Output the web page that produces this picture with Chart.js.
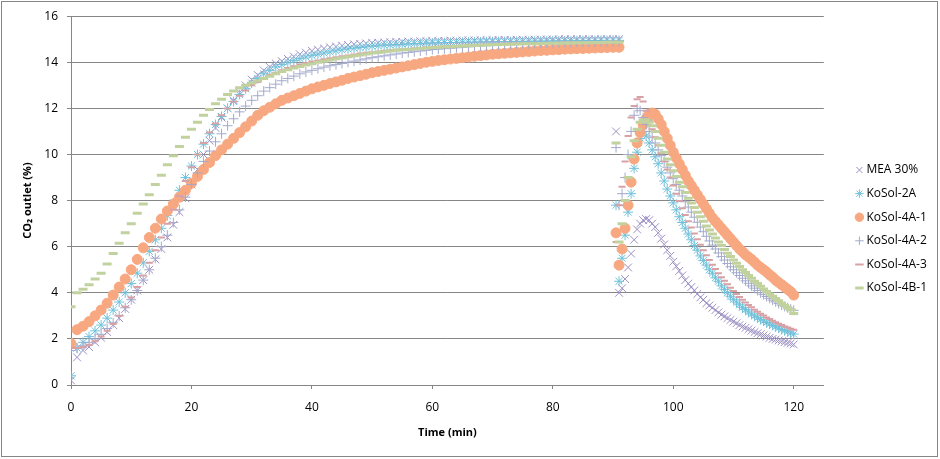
<!DOCTYPE html>
<html>
<head>
<meta charset="utf-8">
<script src="https://cdn.jsdelivr.net/npm/chart.js@4.4.1/dist/chart.umd.min.js"></script>
<style>
  html, body { margin: 0; padding: 0; background: #fff; }
</style>
</head>
<body>
<canvas id="co2Chart" width="940" height="459"></canvas>
<script>
// CO2 outlet vs time: absorption run (0-91 min) then regeneration run (90.5-120 min)

const seriesNames = ['MEA 30%', 'KoSol-2A', 'KoSol-4A-1', 'KoSol-4A-2', 'KoSol-4A-3', 'KoSol-4B-1'];

const absTime = [
  0, 1, 2, 3, 4, 5, 6, 7, 8, 9,
  10, 11, 12, 13, 14, 15, 16, 17, 18, 19,
  20, 21, 22, 23, 24, 25, 26, 27, 28, 29,
  30, 31, 32, 33, 34, 35, 36, 37, 38, 39,
  40, 41, 42, 43, 44, 45, 46, 47, 48, 49,
  50, 51, 52, 53, 54, 55, 56, 57, 58, 59,
  60, 61, 62, 63, 64, 65, 66, 67, 68, 69,
  70, 71, 72, 73, 74, 75, 76, 77, 78, 79,
  80, 81, 82, 83, 84, 85, 86, 87, 88, 89,
  90, 91
];
const desTime = [
  90.5, 91, 91.5, 92, 92.5, 93, 93.5, 94, 94.5, 95,
  95.5, 96, 96.5, 97, 97.5, 98, 98.5, 99, 99.5, 100,
  100.5, 101, 101.5, 102, 102.5, 103, 103.5, 104, 104.5, 105,
  105.5, 106, 106.5, 107, 107.5, 108, 108.5, 109, 109.5, 110,
  110.5, 111, 111.5, 112, 112.5, 113, 113.5, 114, 114.5, 115,
  115.5, 116, 116.5, 117, 117.5, 118, 118.5, 119, 119.5, 120
];

// absorption values (%), one per absTime
const mea30Abs = [
  0.2, 1.2, 1.5, 1.65, 1.85, 2.05, 2.3, 2.6, 2.9, 3.3,
  3.7, 4.1, 4.55, 5.0, 5.45, 5.9, 6.4, 6.95, 7.5, 8.1,
  8.7, 9.35, 10.0, 10.6, 11.15, 11.6, 12.0, 12.35, 12.7, 13.0,
  13.25, 13.45, 13.65, 13.8, 13.95, 14.05, 14.15, 14.25, 14.35, 14.42,
  14.5, 14.55, 14.6, 14.65, 14.68, 14.72, 14.75, 14.78, 14.8, 14.82,
  14.84, 14.85, 14.86, 14.87, 14.88, 14.89, 14.9, 14.9, 14.91, 14.92,
  14.92, 14.93, 14.93, 14.94, 14.94, 14.95, 14.95, 14.95, 14.96, 14.96,
  14.96, 14.97, 14.97, 14.97, 14.98, 14.98, 14.98, 14.98, 14.99, 14.99,
  14.99, 15.0, 15.0, 15.0, 15.0, 15.0, 15.0, 15.0, 15.0, 15.0,
  15.0, 15.0
];
const kosol2aAbs = [
  0.4, 1.6, 1.85, 2.1, 2.35, 2.6, 2.9, 3.25, 3.6, 4.0,
  4.4, 4.85, 5.3, 5.8, 6.3, 6.8, 7.35, 7.9, 8.45, 9.0,
  9.5, 10.0, 10.45, 10.9, 11.3, 11.65, 12.0, 12.3, 12.6, 12.85,
  13.1, 13.3, 13.5, 13.65, 13.8, 13.9, 14.0, 14.08, 14.16, 14.23,
  14.3, 14.35, 14.4, 14.45, 14.5, 14.54, 14.58, 14.61, 14.64, 14.67,
  14.7, 14.72, 14.74, 14.75, 14.77, 14.78, 14.8, 14.81, 14.82, 14.83,
  14.84, 14.85, 14.85, 14.86, 14.86, 14.87, 14.87, 14.88, 14.88, 14.89,
  14.89, 14.9, 14.9, 14.9, 14.91, 14.91, 14.91, 14.92, 14.92, 14.92,
  14.93, 14.93, 14.93, 14.93, 14.94, 14.94, 14.94, 14.94, 14.95, 14.95,
  14.95, 14.95
];
const kosol4a1Abs = [
  1.8, 2.4, 2.55, 2.75, 3.0, 3.25, 3.55, 3.9, 4.25, 4.6,
  5.0, 5.45, 5.95, 6.4, 6.8, 7.2, 7.55, 7.85, 8.15, 8.45,
  8.75, 9.05, 9.35, 9.65, 9.95, 10.2, 10.45, 10.7, 10.95, 11.2,
  11.45, 11.7, 11.9, 12.05, 12.2, 12.35, 12.45, 12.55, 12.65, 12.75,
  12.85, 12.93, 13.0, 13.08, 13.15, 13.22, 13.3, 13.36, 13.42, 13.48,
  13.55, 13.6, 13.65, 13.7, 13.75, 13.8, 13.85, 13.9, 13.95, 14.0,
  14.04, 14.08, 14.11, 14.14, 14.17, 14.2, 14.23, 14.26, 14.29, 14.32,
  14.35, 14.37, 14.39, 14.41, 14.43, 14.45, 14.47, 14.49, 14.51, 14.52,
  14.54, 14.55, 14.57, 14.58, 14.59, 14.6, 14.61, 14.62, 14.63, 14.64,
  14.65, 14.65
];
const kosol4a2Abs = [
  1.5, 1.6, 1.7, 1.85, 2.0, 2.2, 2.45, 2.7, 3.0, 3.35,
  3.7, 4.1, 4.55, 5.0, 5.5, 6.0, 6.5, 7.05, 7.6, 8.15,
  8.7, 9.2, 9.7, 10.15, 10.55, 10.9, 11.25, 11.55, 11.85, 12.1,
  12.35, 12.55, 12.75, 12.9, 13.05, 13.2, 13.3, 13.4, 13.5, 13.58,
  13.65, 13.72, 13.79, 13.85, 13.9, 13.95, 14.0, 14.05, 14.1, 14.15,
  14.2, 14.24, 14.28, 14.32, 14.36, 14.4, 14.43, 14.46, 14.49, 14.52,
  14.55, 14.57, 14.59, 14.61, 14.63, 14.65, 14.67, 14.69, 14.71, 14.73,
  14.75, 14.76, 14.77, 14.78, 14.79, 14.8, 14.81, 14.82, 14.83, 14.84,
  14.85, 14.85, 14.86, 14.86, 14.87, 14.87, 14.88, 14.88, 14.89, 14.89,
  14.9, 14.9
];
const kosol4a3Abs = [
  1.6, 1.6, 1.65, 1.75, 1.9, 2.1, 2.35, 2.65, 3.0, 3.4,
  3.8, 4.25, 4.75, 5.3, 5.85, 6.4, 7.0, 7.6, 8.2, 8.85,
  9.45, 10.0, 10.5, 10.95, 11.35, 11.7, 12.0, 12.3, 12.55, 12.78,
  13.0, 13.15, 13.3, 13.45, 13.55, 13.65, 13.75, 13.83, 13.9, 13.97,
  14.03, 14.08, 14.13, 14.18, 14.22, 14.26, 14.3, 14.34, 14.38, 14.41,
  14.44, 14.47, 14.5, 14.52, 14.54, 14.56, 14.58, 14.6, 14.62, 14.64,
  14.65, 14.67, 14.68, 14.7, 14.71, 14.72, 14.73, 14.74, 14.75, 14.76,
  14.77, 14.78, 14.79, 14.8, 14.8, 14.81, 14.82, 14.82, 14.83, 14.84,
  14.84, 14.85, 14.85, 14.86, 14.86, 14.87, 14.87, 14.88, 14.88, 14.88,
  14.89, 14.89
];
const kosol4b1Abs = [
  3.4, 4.0, 4.15, 4.35, 4.6, 4.85, 5.25, 5.7, 6.15, 6.6,
  7.0, 7.45, 7.85, 8.25, 8.7, 9.1, 9.55, 9.95, 10.35, 10.75,
  11.1, 11.4, 11.7, 11.95, 12.2, 12.4, 12.6, 12.75, 12.9, 13.0,
  13.1, 13.2, 13.3, 13.4, 13.5, 13.6, 13.68, 13.75, 13.82, 13.88,
  13.94, 14.0, 14.05, 14.1, 14.15, 14.2, 14.24, 14.28, 14.32, 14.36,
  14.4, 14.43, 14.46, 14.49, 14.52, 14.54, 14.56, 14.58, 14.6, 14.62,
  14.64, 14.65, 14.67, 14.68, 14.7, 14.71, 14.72, 14.73, 14.74, 14.75,
  14.76, 14.77, 14.78, 14.78, 14.79, 14.8, 14.8, 14.81, 14.82, 14.82,
  14.83, 14.83, 14.84, 14.84, 14.85, 14.85, 14.85, 14.86, 14.86, 14.87,
  14.87, 14.87
];

// regeneration values (%), one per desTime
const mea30Des = [
  11.0, 4.0, 4.2, 4.6, 5.1, 5.7, 6.3, 6.75, 7.0, 7.15,
  7.2, 7.15, 7.0, 6.85, 6.6, 6.35, 6.1, 5.85, 5.6, 5.35,
  5.15, 4.95, 4.75, 4.55, 4.4, 4.25, 4.1, 3.95, 3.8, 3.7,
  3.55, 3.45, 3.35, 3.25, 3.15, 3.05, 2.98, 2.9, 2.82, 2.75,
  2.68, 2.6, 2.54, 2.48, 2.42, 2.36, 2.3, 2.25, 2.2, 2.15,
  2.1, 2.05, 2.0, 1.97, 1.93, 1.9, 1.86, 1.83, 1.8, 1.76
];
const kosol2aDes = [
  7.8, 4.5, 5.5, 6.5, 7.5, 8.3, 9.4, 10.1, 10.7, 11.0,
  10.8, 10.5, 10.2, 9.9, 9.6, 9.2, 8.85, 8.5, 8.2, 7.9,
  7.6, 7.3, 7.05, 6.8, 6.55, 6.3, 6.05, 5.85, 5.6, 5.4,
  5.2, 5.0, 4.85, 4.65, 4.5, 4.3, 4.15, 4.0, 3.85, 3.72,
  3.6, 3.48, 3.37, 3.27, 3.17, 3.08, 3.0, 2.92, 2.85, 2.78,
  2.71, 2.65, 2.59, 2.53, 2.47, 2.41, 2.36, 2.31, 2.26, 2.21
];
const kosol4a1Des = [
  6.6, 5.2, 5.9, 6.8, 7.8, 8.8, 9.8, 10.5, 10.95, 11.3,
  11.55, 11.75, 11.8, 11.75, 11.55, 11.3, 11.0, 10.7, 10.4, 10.1,
  9.85, 9.6, 9.35, 9.1, 8.85, 8.65, 8.45, 8.25, 8.05, 7.85,
  7.65, 7.45, 7.25, 7.1, 6.95, 6.8, 6.65, 6.5, 6.35, 6.2,
  6.05, 5.9, 5.78, 5.65, 5.55, 5.45, 5.33, 5.2, 5.1, 5.0,
  4.9, 4.78, 4.68, 4.55, 4.45, 4.35, 4.25, 4.15, 4.05, 3.9
];
const kosol4a2Des = [
  10.3, 7.8, 8.3, 9.0, 10.0, 11.0, 11.7, 12.0, 11.9, 11.6,
  11.3, 11.0, 10.75, 10.5, 10.2, 9.95, 9.7, 9.45, 9.2, 8.95,
  8.7, 8.45, 8.2, 7.95, 7.72, 7.5, 7.28, 7.06, 6.85, 6.65,
  6.45, 6.25, 6.07, 5.9, 5.73, 5.57, 5.42, 5.27, 5.13, 5.0,
  4.87, 4.75, 4.63, 4.52, 4.41, 4.3, 4.2, 4.1, 4.0, 3.92,
  3.84, 3.76, 3.68, 3.61, 3.54, 3.47, 3.41, 3.35, 3.29, 3.24
];
const kosol4a3Des = [
  6.2, 7.8, 8.6, 9.7, 10.8, 11.6, 12.1, 12.4, 12.5, 12.3,
  11.9, 11.5, 11.1, 10.75, 10.4, 10.05, 9.7, 9.35, 9.0, 8.65,
  8.3, 7.98, 7.67, 7.38, 7.1, 6.83, 6.57, 6.32, 6.08, 5.85,
  5.63, 5.42, 5.22, 5.03, 4.85, 4.68, 4.52, 4.37, 4.22, 4.08,
  3.95, 3.82, 3.7, 3.58, 3.47, 3.37, 3.27, 3.18, 3.09, 3.01,
  2.93, 2.86, 2.79, 2.72, 2.66, 2.6, 2.54, 2.49, 2.44, 2.4
];
const kosol4b1Des = [
  10.5, 6.2, 7.0, 8.0, 9.0, 9.9, 10.6, 11.1, 11.4, 11.5,
  11.5, 11.4, 11.25, 11.0, 10.7, 10.4, 10.1, 9.8, 9.55, 9.3,
  9.05, 8.8, 8.6, 8.35, 8.1, 7.9, 7.7, 7.5, 7.3, 7.1,
  6.9, 6.72, 6.55, 6.38, 6.2, 6.05, 5.88, 5.72, 5.57, 5.42,
  5.28, 5.14, 5.0, 4.88, 4.75, 4.63, 4.5, 4.4, 4.28, 4.17,
  4.06, 3.95, 3.85, 3.75, 3.65, 3.55, 3.45, 3.35, 3.25, 3.1
];

const xTicks = [0, 20, 40, 60, 80, 100, 120];

const absValues = [mea30Abs, kosol2aAbs, kosol4a1Abs, kosol4a2Abs, kosol4a3Abs, kosol4b1Abs];
const desValues = [mea30Des, kosol2aDes, kosol4a1Des, kosol4a2Des, kosol4a3Des, kosol4b1Des];

// marker look per series (Excel-like tints)
const markerStyles = [
  { pointStyle: 'crossRot', radius: 5.5, color: '#9C8FC4', width: 1 },
  { pointStyle: 'star',     radius: 5,   color: '#70C1DA', width: 1 },
  { pointStyle: 'circle',   radius: 5,   color: '#F8A880', width: 1 },
  { pointStyle: 'cross',    radius: 5,   color: '#A3AACD', width: 1 },
  { pointStyle: 'line',     radius: 3.5, color: '#D8A1A6', width: 2 },
  { pointStyle: 'line',     radius: 4.5, color: '#C1D29F', width: 3 },
];

function toPoints(times, values) {
  return times.map((t, i) => ({ x: t, y: values[i] }));
}

const datasets = seriesNames.map((name, i) => {
  const m = markerStyles[i];
  return {
    label: name,
    data: toPoints(absTime, absValues[i]).concat(toPoints(desTime, desValues[i])),
    showLine: false,
    pointStyle: m.pointStyle,
    pointRadius: m.radius,
    pointHoverRadius: m.radius,
    pointBorderWidth: m.width,
    borderWidth: m.width,
    borderColor: m.color,
    backgroundColor: m.color,
    order: seriesNames.length - i,   // later series drawn on top, like Excel
  };
});

const FONT = "'Open Sans', 'Liberation Sans', sans-serif";
const GRID = '#868686';

const frame = {
  id: 'frame',
  afterDraw(chart) {
    const ctx = chart.ctx;
    ctx.save();
    ctx.strokeStyle = GRID;
    ctx.lineWidth = 1;
    ctx.strokeRect(1.5, 1.5, 936, 455);
    ctx.restore();
  }
};

new Chart(document.getElementById('co2Chart'), {
  type: 'scatter',
  data: { datasets },
  plugins: [frame],
  options: {
    responsive: false,
    animation: false,
    layout: { padding: { left: 0, top: 15, right: 3, bottom: 16 } },
    plugins: {
      legend: {
        position: 'right',
        align: 'center',
        labels: {
          usePointStyle: true,
          boxWidth: 2,
          boxHeight: 6,
          padding: 11.6,
          color: '#000',
          font: { family: FONT, size: 12 },
          sort: (a, b) => a.datasetIndex - b.datasetIndex,
        },
      },
      tooltip: { enabled: false },
    },
    scales: {
      x: {
        type: 'linear',
        min: 0,
        max: 125,
        afterBuildTicks: s => { s.ticks = xTicks.map(v => ({ value: v })); },
        afterFit: s => { s.height = 58; },
        grid: { drawOnChartArea: false, drawTicks: true, tickLength: 4, color: GRID },
        border: { color: GRID },
        ticks: { padding: 11, color: '#000', font: { family: FONT, size: 12 }, maxRotation: 0 },
        title: {
          display: true,
          text: 'Time (min)',
          color: '#000',
          font: { family: FONT, size: 11, weight: 'bold' },
          padding: { top: 0, bottom: 4 },
        },
      },
      y: {
        min: 0,
        max: 16,
        afterFit: s => { s.width = 71; },
        grid: { color: GRID, tickLength: 4 },
        border: { color: GRID },
        ticks: { stepSize: 2, padding: 9, color: '#000', font: { family: FONT, size: 12 } },
        title: {
          display: true,
          text: 'CO₂ outlet (%)',
          color: '#000',
          font: { family: FONT, size: 11, weight: 'bold' },
          padding: { top: 21, bottom: 0 },
        },
      },
      // empty spacer between plot area and legend
      gap: {
        type: 'linear',
        position: 'right',
        display: true,
        afterFit: s => { s.width = 23; },
        grid: { display: false, drawTicks: false },
        border: { display: false },
        ticks: { display: false },
      },
    },
  },
});
</script>
</body>
</html>
